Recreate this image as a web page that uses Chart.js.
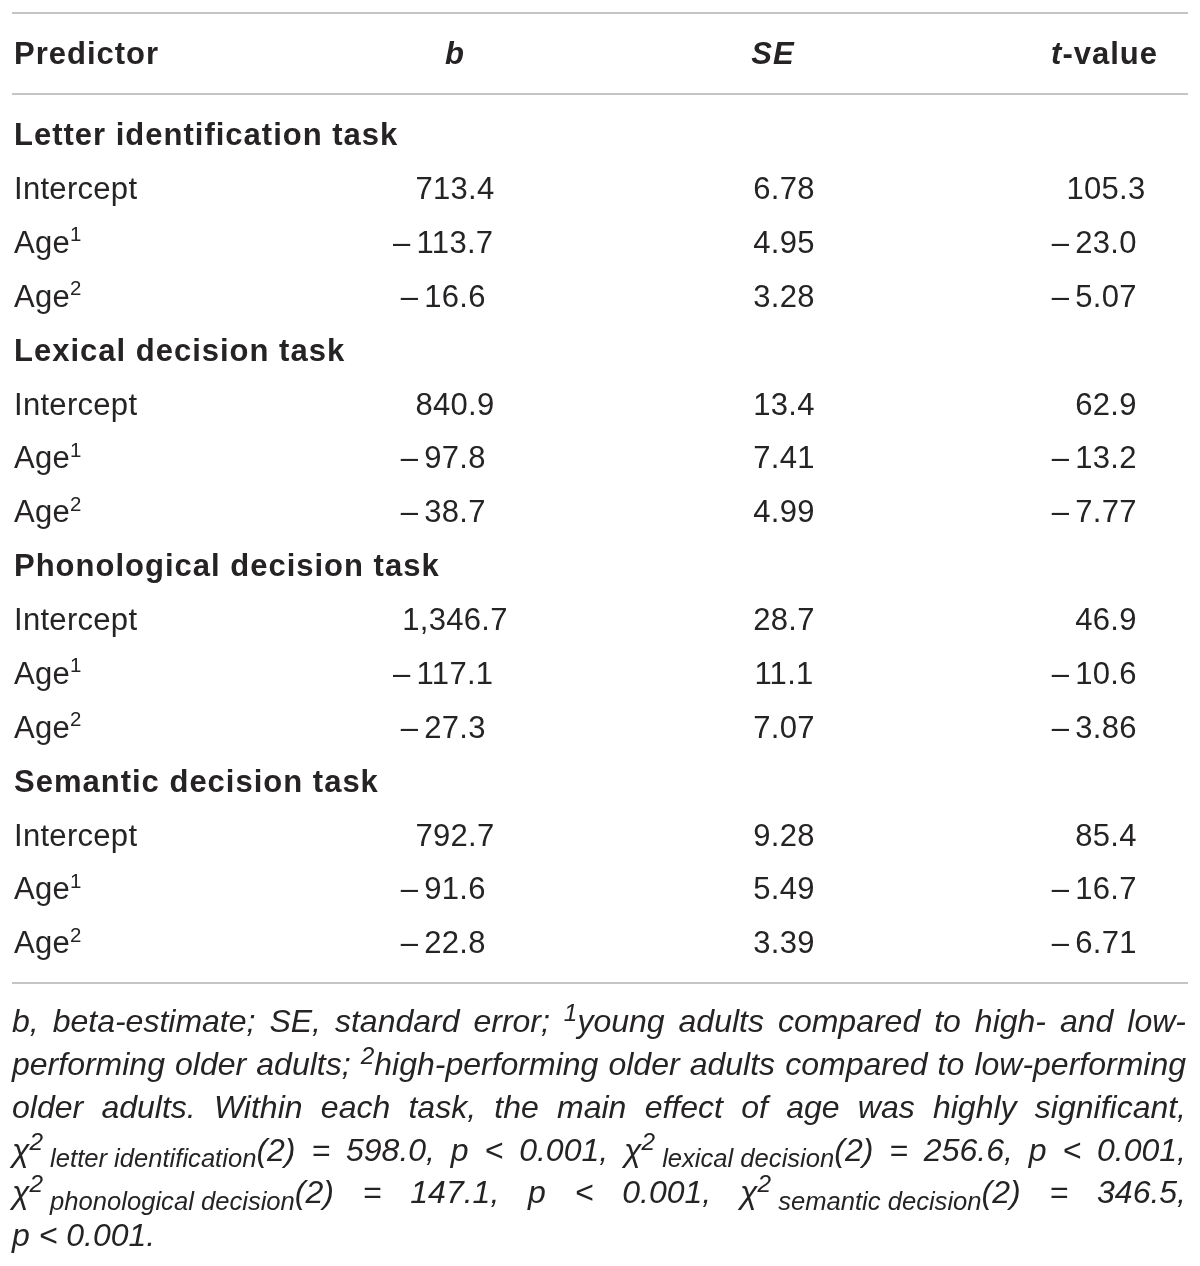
<!DOCTYPE html>
<html>
<head>
<meta charset="utf-8">
<script src="https://cdn.jsdelivr.net/npm/chart.js@4.4.0/dist/chart.umd.min.js"></script>
<style>
  html, body { margin: 0; padding: 0; background: #fff; }
  #wrap { width: 1200px; height: 1266px; }
</style>
</head>
<body>
<div id="wrap"><canvas id="tabla" width="1200" height="1266"></canvas></div>
<script>
// ── Datos de la tabla ──
const sections = ['Letter identification task', 'Lexical decision task', 'Phonological decision task', 'Semantic decision task'];
const predictors = ['Intercept', 'Age^1^', 'Age^2^'];
const columns = ['Predictor', '*b*', '*SE*', '*t*-value'];
const bValues = [713.4, -113.7, -16.6, 840.9, -97.8, -38.7, 1346.7, -117.1, -27.3, 792.7, -91.6, -22.8];
const seValues = [6.78, 4.95, 3.28, 13.4, 7.41, 4.99, 28.7, 11.1, 7.07, 9.28, 5.49, 3.39];
const tValues = [105.3, -23.0, -5.07, 62.9, -13.2, -7.77, 46.9, -10.6, -3.86, 85.4, -16.7, -6.71];

// Nota al pie: ^sup^, _sub_, ~ = espacio dentro de un bloque
const noteLines = [
    'b, beta-estimate; SE, standard error; ^1^young adults compared to high- and low-',
    'performing older adults; ^2^high-performing older adults compared to low-performing',
    'older adults. Within each task, the main effect of age was highly significant,',
    'χ^2^_~letter~identification_(2) = 598.0, p < 0.001, χ^2^_~lexical~decision_(2) = 256.6, p < 0.001,',
    'χ^2^_~phonological~decision_(2) = 147.1, p < 0.001, χ^2^_~semantic~decision_(2) = 346.5,',
    'p < 0.001.'
];

// ── Layout ──
const FONT = "'Liberation Sans', Helvetica, Arial, sans-serif";
const INK = '#262324';
const RULE = '#c4c4c4';
const colX = [14, 455, 784, 1106];
const headX = [14, 455, 773, 1158];
const headAlign = ['left', 'center', 'center', 'right'];
const HEAD_ROW = -1.5;
const RULE_ROWS = [-2.25, -0.75, 15.75];

const rowLabels = [];
const rowBold = [];
const valueRows = [];
sections.forEach(function (s) {
    rowLabels.push(s);
    rowBold.push(true);
    predictors.forEach(function (p) {
        rowLabels.push(p);
        rowBold.push(false);
        valueRows.push(rowLabels.length - 1);
    });
});

// ── Texto enriquecido ──
function parse(str) {
    const segs = [];
    let cur = { t: '', sup: false, sub: false, it: false };
    for (const ch of str) {
        if (ch === '^' || ch === '_' || ch === '*') {
            if (cur.t) segs.push(cur);
            cur = { t: '', sup: cur.sup, sub: cur.sub, it: cur.it };
            if (ch === '^') cur.sup = !cur.sup;
            if (ch === '_') cur.sub = !cur.sub;
            if (ch === '*') cur.it = !cur.it;
        } else {
            cur.t += ch === '~' ? ' ' : ch;
        }
    }
    if (cur.t) segs.push(cur);
    return segs;
}

function setFont(ctx, seg, base) {
    let size = base.size;
    if (seg.sup) size = base.size * base.supScale;
    if (seg.sub) size = base.size * base.subScale;
    ctx.font = (base.italic || seg.it ? 'italic ' : '') + base.weight + ' ' + size + 'px ' + FONT;
    ctx.letterSpacing = (seg.sup || seg.sub ? 0 : base.ls) + 'px';
}

function richWidth(ctx, segs, base) {
    let w = 0;
    segs.forEach(function (s) {
        setFont(ctx, s, base);
        w += ctx.measureText(s.t).width;
    });
    return w;
}

function drawRich(ctx, segs, x, y, base) {
    ctx.textAlign = 'left';
    ctx.textBaseline = 'alphabetic';
    segs.forEach(function (s) {
        setFont(ctx, s, base);
        let dy = 0;
        if (s.sup) dy = -base.size * base.supRise;
        if (s.sub) dy = base.size * 0.2;
        ctx.fillText(s.t, x, y + dy);
        x += ctx.measureText(s.t).width;
    });
    return x;
}

function fmt(v) {
    const d = Math.abs(v) < 10 ? 2 : 1;
    return Math.abs(v).toLocaleString('en-US', { minimumFractionDigits: d, maximumFractionDigits: d });
}

const BOLD = { size: 31, weight: 'bold', italic: false, ls: 1, supScale: 0.62, subScale: 0.72, supRise: 0.36 };
const REG = { size: 31, weight: 'normal', italic: false, ls: 0.3, supScale: 0.66, subScale: 0.72, supRise: 0.38 };

// ── Plugin que dibuja la tabla ──
const tablePlugin = {
    id: 'tableText',
    afterDatasetsDraw: function (chart) {
        const ctx = chart.ctx;
        const yScale = chart.scales.y;
        ctx.save();

        // reglas horizontales
        ctx.strokeStyle = RULE;
        ctx.lineWidth = 2;
        RULE_ROWS.forEach(function (r) {
            const y = Math.round(yScale.getPixelForValue(r));
            ctx.beginPath();
            ctx.moveTo(12, y);
            ctx.lineTo(1188, y);
            ctx.stroke();
        });

        ctx.fillStyle = INK;
        const off = 31 * 0.34;

        // encabezados
        chart.getDatasetMeta(0).data.forEach(function (pt, i) {
            const segs = parse(columns[i]);
            const w = richWidth(ctx, segs, BOLD);
            let x = pt.x;
            if (headAlign[i] === 'center') x -= w / 2;
            if (headAlign[i] === 'right') x -= w;
            drawRich(ctx, segs, x, pt.y + off, BOLD);
        });

        // etiquetas de fila
        chart.getDatasetMeta(1).data.forEach(function (pt, i) {
            drawRich(ctx, parse(rowLabels[i]), pt.x, pt.y + off, rowBold[i] ? BOLD : REG);
        });

        // valores numéricos
        [bValues, seValues, tValues].forEach(function (vals, k) {
            chart.getDatasetMeta(k + 2).data.forEach(function (pt, i) {
                const v = vals[i];
                const txt = fmt(v);
                setFont(ctx, {}, REG);
                ctx.textBaseline = 'alphabetic';
                ctx.textAlign = 'center';
                ctx.fillText(txt, pt.x, pt.y + off);
                if (v < 0) {
                    const w = ctx.measureText(txt).width;
                    ctx.textAlign = 'right';
                    ctx.fillText('\u2013', pt.x - w / 2 - 6, pt.y + off);
                }
            });
        });

        // nota al pie, justificada
        const left = 12, right = 1186, W = right - left;
        const lines = noteLines.map(function (l) { return l.split(' ').map(parse); });
        let NOTE = { size: 30, weight: 'normal', italic: true, ls: 0, supScale: 0.76, subScale: 0.8, supRise: 0.34 };
        let fit = Infinity;
        for (let li = 0; li < lines.length - 1; li++) {
            const nat = lines[li].reduce(function (a, w) { return a + richWidth(ctx, w, NOTE); }, 0);
            setFont(ctx, {}, NOTE);
            const total = nat + ctx.measureText(' ').width * 0.8 * (lines[li].length - 1);
            fit = Math.min(fit, NOTE.size * W / total);
        }
        NOTE = Object.assign({}, NOTE, { size: Math.min(fit, 32) });

        const baseY = yScale.getPixelForValue(RULE_ROWS[2]) + 49;
        lines.forEach(function (words, li) {
            const y = baseY + li * 42.8;
            const widths = words.map(function (w) { return richWidth(ctx, w, NOTE); });
            const total = widths.reduce(function (a, b) { return a + b; }, 0);
            setFont(ctx, {}, NOTE);
            let gap = ctx.measureText(' ').width;
            if (li < lines.length - 1 && words.length > 1) gap = (W - total) / (words.length - 1);
            let x = left;
            words.forEach(function (w, wi) {
                drawRich(ctx, w, x, y, NOTE);
                x += widths[wi] + gap;
            });
        });

        ctx.restore();
    }
};

const pointStyle = { pointRadius: 0, pointHoverRadius: 0, showLine: false };

new Chart(document.getElementById('tabla'), {
    type: 'scatter',
    data: {
        datasets: [
            Object.assign({ label: 'head', data: columns.map(function (c, i) { return { x: headX[i], y: HEAD_ROW }; }) }, pointStyle),
            Object.assign({ label: 'rows', data: rowLabels.map(function (t, r) { return { x: colX[0], y: r }; }) }, pointStyle),
            Object.assign({ label: 'b', data: bValues.map(function (v, i) { return { x: colX[1], y: valueRows[i] }; }) }, pointStyle),
            Object.assign({ label: 'SE', data: seValues.map(function (v, i) { return { x: colX[2], y: valueRows[i] }; }) }, pointStyle),
            Object.assign({ label: 't', data: tValues.map(function (v, i) { return { x: colX[3], y: valueRows[i] }; }) }, pointStyle)
        ]
    },
    options: {
        responsive: false,
        animation: false,
        events: [],
        layout: { padding: 0 },
        plugins: {
            legend: { display: false },
            tooltip: { enabled: false }
        },
        scales: {
            x: { type: 'linear', display: false, min: 0, max: 1200 },
            y: { type: 'linear', display: false, min: -2.5, max: 21, reverse: true }
        }
    },
    plugins: [tablePlugin]
});
</script>
</body>
</html>
